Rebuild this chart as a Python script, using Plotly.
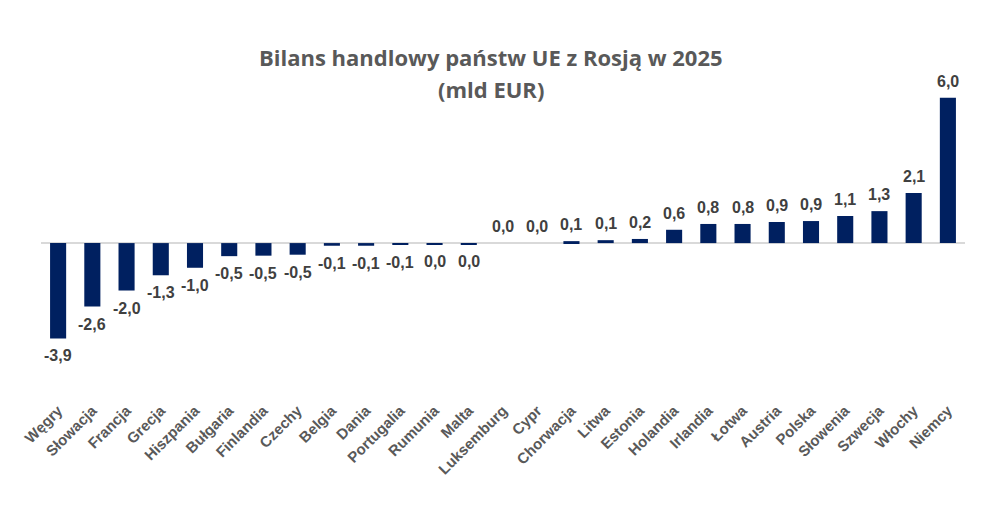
import plotly.graph_objects as go

countries = ["Węgry", "Słowacja", "Francja", "Grecja", "Hiszpania", "Bułgaria", "Finlandia",
             "Czechy", "Belgia", "Dania", "Portugalia", "Rumunia", "Malta", "Luksemburg", "Cypr",
             "Chorwacja", "Litwa", "Estonia", "Holandia", "Irlandia", "Łotwa", "Austria", "Polska",
             "Słowenia", "Szwecja", "Włochy", "Niemcy"]
values = [-3.94, -2.62, -1.96, -1.33, -1.02, -0.54, -0.52, -0.48, -0.11, -0.11, -0.07, -0.04, -0.04,
          0.0, 0.0, 0.08, 0.12, 0.17, 0.55, 0.79, 0.79, 0.87, 0.91, 1.12, 1.32, 2.07, 6.0]
title_lines = ["Bilans handlowy państw UE z Rosją w 2025", "(mld EUR)"]


def fmt(v):
    s = f"{v:.1f}".replace(".", ",")
    return "0,0" if s == "-0,0" else s


labels = [fmt(v) for v in values]

fig = go.Figure(go.Bar(
    x=countries, y=values,
    marker=dict(color="#002060", line=dict(width=0)),
    width=0.47,
))

annotations = []
for c, v, t in zip(countries, values, labels):
    neg = v < 0
    annotations.append(dict(
        x=c, y=v, xref="x", yref="y", text=t, showarrow=False,
        yanchor="top" if neg else "bottom", yshift=-7 if neg else 6,
        font=dict(family="Liberation Sans", size=16, color="#404040", weight="bold"),
    ))
for t, yy in zip(title_lines, [1.118, 1.013]):
    annotations.append(dict(
        x=0.487, y=yy, xref="paper", yref="paper", text=t, showarrow=False,
        xanchor="center", yanchor="middle",
        font=dict(family="Open Sans", size=22, color="#595959", weight="bold"),
    ))

fig.update_layout(
    width=988, height=518,
    paper_bgcolor="white", plot_bgcolor="white",
    margin=dict(l=33, r=31, t=85, b=128, autoexpand=False),
    showlegend=False,
    annotations=annotations,
)
fig.update_xaxes(showline=False, ticks="", tickangle=-45, showgrid=False, automargin=False,
                 tickfont=dict(family="Liberation Sans", size=15, color="#595959", weight="bold"))
fig.update_yaxes(range=[-6.4, 6.2], showgrid=False, showticklabels=False, zeroline=True,
                 automargin=False,
                 zerolinecolor="#d9d9d9", zerolinewidth=1.5, showline=False)

fig.write_html("out.html")
